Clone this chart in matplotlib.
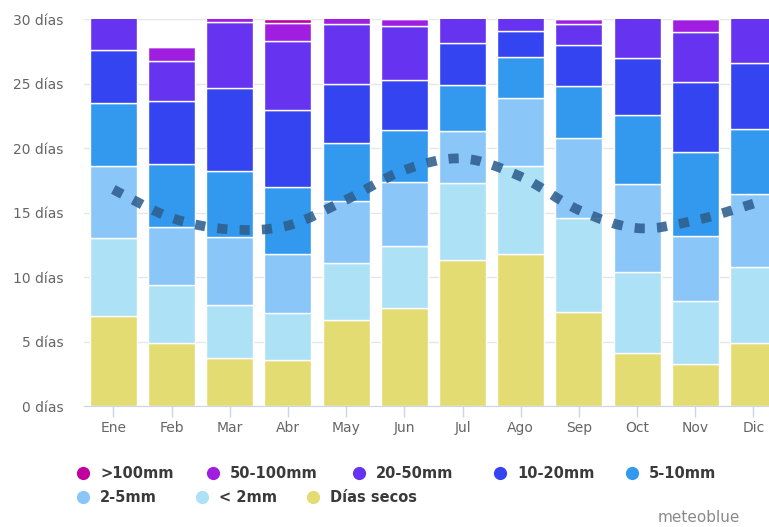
import matplotlib
matplotlib.use("Agg")
import matplotlib.pyplot as plt
from matplotlib.path import Path
from matplotlib.patches import PathPatch
import numpy as np

months = ["Ene", "Feb", "Mar", "Abr", "May", "Jun",
          "Jul", "Ago", "Sep", "Oct", "Nov", "Dic"]

# days per precipitation class, bottom to top
dias_secos = [7.0, 4.9, 3.7, 3.57, 6.66, 7.64, 11.3, 11.8, 7.33, 4.1, 3.29, 4.9]
lt_2mm     = [6.0, 4.5, 4.15, 3.68, 4.4, 4.76, 6.0, 6.85, 7.27, 6.3, 4.87, 5.9]
mm_2_5     = [5.6, 4.5, 5.25, 4.55, 4.84, 4.95, 4.0, 5.25, 6.2, 6.8, 5.04, 5.65]
mm_5_10    = [4.9, 4.9, 5.1, 5.2, 4.5, 4.05, 3.6, 3.2, 4.0, 5.4, 6.5, 5.05]
mm_10_20   = [4.1, 4.9, 6.5, 6.0, 4.6, 3.9, 3.3, 2.0, 3.2, 4.4, 5.4, 5.1]
mm_20_50   = [3.4, 3.05, 5.1, 5.35, 4.6, 4.15, 2.8, 1.9, 1.6, 4.0, 3.9, 4.4]
mm_50_100  = [0.0, 1.1, 1.2, 1.4, 1.4, 0.55, 0.0, 0.0, 0.4, 0.0, 1.0, 0.0]
gt_100mm   = [0.0, 0.0, 0.0, 0.25, 0.0, 0.0, 0.0, 0.0, 0.0, 0.0, 0.0, 0.0]

# dotted curve (days with precipitation)
dias_precip = [16.8, 14.6, 13.7, 14.0, 16.0, 18.3, 19.2, 17.8, 15.2, 13.8, 14.4, 15.7]

series = [
    ("Días secos", dias_secos, "#E3DC72"),
    ("< 2mm", lt_2mm, "#ADE2F6"),
    ("2-5mm", mm_2_5, "#8AC7F8"),
    ("5-10mm", mm_5_10, "#3399EE"),
    ("10-20mm", mm_10_20, "#3344F0"),
    ("20-50mm", mm_20_50, "#6633F0"),
    ("50-100mm", mm_50_100, "#A01EE0"),
    (">100mm", gt_100mm, "#C0009E"),
]
colors = {name: c for name, _, c in series}

W, H = 769, 527
fig = plt.figure(figsize=(W / 100, H / 100), dpi=100)
left, right, top, bottom = 84.2, 782.6, 19.3, 406
ax = fig.add_axes([left / W, 1 - bottom / H, (right - left) / W, (bottom - top) / H])

x = np.arange(len(months))
base = np.zeros(len(months))
for name, vals, col in series:
    v = np.array(vals)
    ax.bar(x, v, width=0.81, bottom=base, color=col, edgecolor="white",
           linewidth=1.0, zorder=2)
    base += v

# smooth dotted line through monthly values
pts = np.column_stack([x, dias_precip]).astype(float)
verts = [tuple(pts[0])]
codes = [Path.MOVETO]
n = len(pts)
for i in range(n - 1):
    p0 = pts[max(i - 1, 0)]
    p1 = pts[i]
    p2 = pts[i + 1]
    p3 = pts[min(i + 2, n - 1)]
    c1 = p1 + (p2 - p0) / 6.0
    c2 = p2 - (p3 - p1) / 6.0
    verts += [tuple(c1), tuple(c2), tuple(p2)]
    codes += [Path.CURVE4] * 3
curve = PathPatch(Path(verts, codes), fill=False, edgecolor="#2F5F8F",
                  alpha=0.88, linewidth=7.0, capstyle="butt", zorder=4)
curve.set_linestyle((0, (1.05, 1.25)))
ax.add_patch(curve)

ax.set_xlim(-0.5, 11.5)
ax.set_ylim(0, 30)
ax.set_yticks(range(0, 31, 5))
ax.set_yticklabels([f"{v} días" for v in range(0, 31, 5)])
ax.set_xticks(x)
ax.set_xticklabels(months)
ax.grid(axis="y", color="#E6E6E6", linewidth=1.0, zorder=0)
ax.set_axisbelow(True)
for s in ["top", "right", "left"]:
    ax.spines[s].set_visible(False)
ax.spines["bottom"].set_color("#CCD6EB")
ax.spines["bottom"].set_zorder(5)
ax.tick_params(axis="y", length=0, pad=15, labelsize=10, labelcolor="#666666")
ax.tick_params(axis="x", length=8, width=1, color="#CCD6EB", pad=3,
               labelsize=10, labelcolor="#666666")

# legend laid out like the original (flowing items)
lg = fig.add_axes([0, 0, 1, 1], facecolor="none")
lg.set_xlim(0, W)
lg.set_ylim(H, 0)
lg.axis("off")
legend_items = [
    (">100mm", 83, 473), ("50-100mm", 213, 473), ("20-50mm", 359, 473),
    ("10-20mm", 500, 473), ("5-10mm", 632, 473),
    ("2-5mm", 83, 497), ("< 2mm", 202, 497), ("Días secos", 313, 497),
]
for name, lx, ly in legend_items:
    lg.plot([lx], [ly], "o", markersize=9.5, color=colors[name],
            markeredgewidth=0)
    lg.text(lx + 17, ly, name, fontsize=10.5, fontweight="semibold",
            color="#3A3A3A", va="center", ha="left")

lg.text(740, 517, "meteoblue", fontsize=11, color="#8A8A8A",
        ha="right", va="center")

fig.savefig("out.png", dpi=100, facecolor="white")
